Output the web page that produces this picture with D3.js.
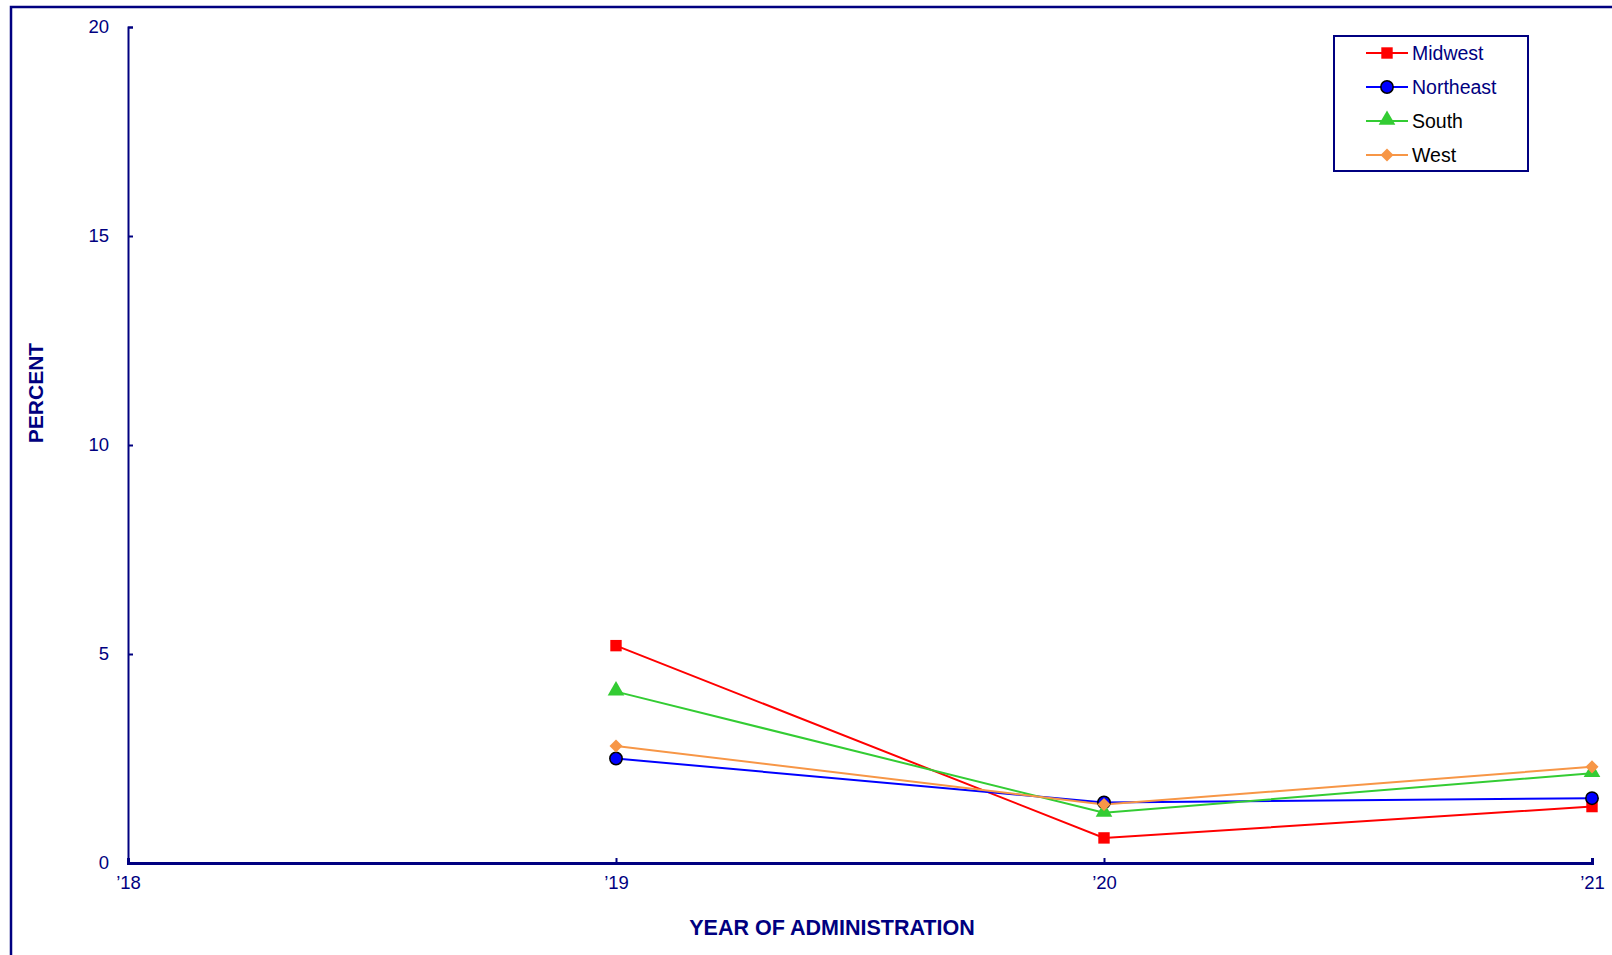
<!DOCTYPE html>
<html>
<head>
<meta charset="utf-8">
<script src="https://cdn.jsdelivr.net/npm/d3@7/dist/d3.min.js"></script>
<style>
  body { margin: 0; background: #fff; }
  text { font-family: "Liberation Sans", Arial, sans-serif; }
</style>
</head>
<body>
<svg id="chart" width="1612" height="955"></svg>
<script>
const years = [2018, 2019, 2020, 2021];
const yearLabels = ['\u201918', '\u201919', '\u201920', '\u201921'];
const yTicks = [0, 5, 10, 15, 20];

// values per region, '19 to '21 ('18 has no data)
const dataYears = [2019, 2020, 2021];
const midwest = [5.2, 0.6, 1.35];
const northeast = [2.5, 1.45, 1.55];
const south = [4.1, 1.2, 2.15];
const west = [2.8, 1.4, 2.3];

const navy = '#000080';

const series = [
  { name: 'Midwest', values: midwest, color: '#ff0000', symbol: 'square', textColor: navy },
  { name: 'Northeast', values: northeast, color: '#0000ff', symbol: 'circle', textColor: navy },
  { name: 'South', values: south, color: '#33cc33', symbol: 'triangle', textColor: '#000' },
  { name: 'West', values: west, color: '#f79646', symbol: 'diamond', textColor: '#000' }
];

const svg = d3.select('#chart');

// outer frame (only top + left visible)
svg.append('path')
  .attr('d', 'M11,960 L11,7 L1620,7')
  .attr('fill', 'none')
  .attr('stroke', navy)
  .attr('stroke-width', 2.5);

const x = d3.scaleLinear().domain([2018, 2021]).range([128, 1592]);
const y = d3.scaleLinear().domain([0, 20]).range([863, 27]);

// y axis
const yAxis = svg.append('g')
  .attr('transform', 'translate(128,0)')
  .call(d3.axisLeft(y).tickValues(yTicks).tickSize(-5).tickPadding(19));
yAxis.select('.domain').attr('stroke', navy).attr('stroke-width', 2);
yAxis.selectAll('.tick line').attr('stroke', navy).attr('stroke-width', 2);
yAxis.selectAll('.tick text')
  .attr('fill', navy)
  .style('font-size', '18.5px');

// x axis
const xAxis = svg.append('g')
  .attr('transform', 'translate(0,863)')
  .call(d3.axisBottom(x).tickValues(years).tickFormat((d, i) => yearLabels[i]).tickSize(-5).tickPadding(13));
xAxis.select('.domain').attr('stroke', navy).attr('stroke-width', 3);
xAxis.selectAll('.tick line').attr('stroke', navy).attr('stroke-width', 2);
xAxis.selectAll('.tick text')
  .attr('fill', navy)
  .style('font-size', '18.5px');

// axis titles
svg.append('text')
  .attr('x', 832)
  .attr('y', 935)
  .attr('text-anchor', 'middle')
  .attr('fill', navy)
  .style('font-size', '21.5px')
  .style('font-weight', 'bold')
  .text('YEAR OF ADMINISTRATION');

svg.append('text')
  .attr('transform', 'translate(43,393) rotate(-90)')
  .attr('text-anchor', 'middle')
  .attr('fill', navy)
  .style('font-size', '21px')
  .style('font-weight', 'bold')
  .text('PERCENT');

const symbolTypes = {
  square: d3.symbolSquare,
  circle: d3.symbolCircle,
  triangle: d3.symbolTriangle,
  diamond: d3.symbolSquare
};
const symbolSizes = { square: 130, circle: 120, triangle: 120, diamond: 85 };

function drawMarker(g, s, cx, cy) {
  const off = s.symbol == 'triangle' ? -1 : 0;
  const rot = s.symbol == 'diamond' ? ' rotate(45)' : '';
  g.append('path')
    .attr('transform', 'translate(' + cx + ',' + (cy + off) + ')' + rot)
    .attr('d', d3.symbol().type(symbolTypes[s.symbol]).size(symbolSizes[s.symbol])())
    .attr('fill', s.color)
    .attr('stroke', s.symbol == 'circle' ? '#000' : 'none')
    .attr('stroke-width', 1.5);
}

const line = d3.line()
  .x((d, i) => x(dataYears[i]))
  .y(d => y(d));

const plot = svg.append('g');
for (const s of series) {
  plot.append('path')
    .attr('d', line(s.values))
    .attr('fill', 'none')
    .attr('stroke', s.color)
    .attr('stroke-width', 2);
}
for (const s of series) {
  s.values.forEach((v, i) => drawMarker(plot, s, x(dataYears[i]), y(v)));
}

// legend
const legend = svg.append('g');
legend.append('rect')
  .attr('x', 1334)
  .attr('y', 36)
  .attr('width', 194)
  .attr('height', 135)
  .attr('fill', '#fff')
  .attr('stroke', navy)
  .attr('stroke-width', 2);

series.forEach((s, i) => {
  const ly = 53 + i * 34;
  legend.append('line')
    .attr('x1', 1366).attr('x2', 1408)
    .attr('y1', ly).attr('y2', ly)
    .attr('stroke', s.color)
    .attr('stroke-width', 2);
  drawMarker(legend, s, 1387, ly);
  legend.append('text')
    .attr('x', 1412)
    .attr('y', ly)
    .attr('dy', '0.35em')
    .attr('fill', s.textColor)
    .style('font-size', '19.5px')
    .text(s.name);
});
</script>
</body>
</html>
